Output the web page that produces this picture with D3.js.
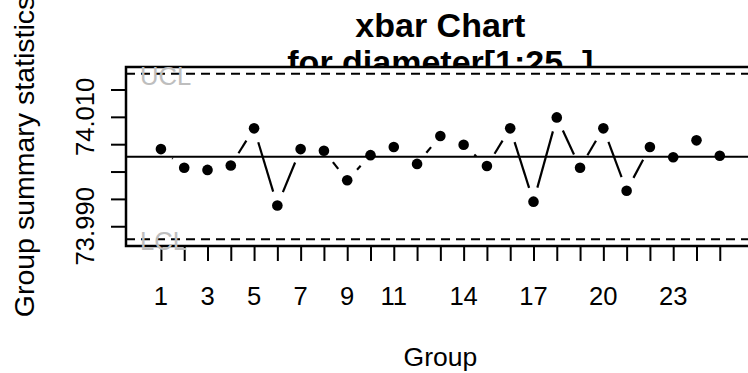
<!DOCTYPE html>
<html>
<head>
<meta charset="utf-8">
<script src="https://cdn.jsdelivr.net/npm/d3@7"></script>
<style>
  body { margin: 0; background: #fff; }
  text { font-family: "Liberation Sans", Arial, sans-serif; }
</style>
</head>
<body>
<div id="chart"></div>
<script>
// group means
var groups = d3.range(1, 26);
var means = [74.0041, 74.0007, 74.0003, 74.0011, 74.0079, 73.9938, 74.0041, 74.0038,
             73.9984, 74.0030, 74.0045, 74.0014, 74.0065, 74.0049, 74.0010, 74.0079,
             73.9945, 74.0099, 74.0007, 74.0079, 73.9965, 74.0045, 74.0026, 74.0057,
             74.0029];
var center = 74.0027, ucl = 74.0179, lcl = 73.9876;
var yTicks = [73.990, 73.995, 74.000, 74.005, 74.010, 74.015];
var yLabels = [73.990, 74.010];
var xLabels = [1, 3, 5, 7, 9, 11, 14, 17, 20, 23];

var W = 748, H = 373;
var box = { left: 126, top: 67, right: 754.7, bottom: 246 };

var svg = d3.select("#chart").append("svg")
    .attr("width", W)
    .attr("height", H);

// R style limits: 4% padding around the data range
var pad = (ucl - lcl) * 0.04;
var y = d3.scaleLinear()
    .domain([lcl - pad, ucl + pad])
    .range([box.bottom, box.top]);

var x = d3.scaleLinear()
    .domain([-0.5, 26.5])
    .range([box.left, box.right]);

var cx = (box.left + box.right) / 2;

// title (bottom of second line is hidden by plot area)
svg.append("text")
    .attr("x", cx).attr("y", 36.5)
    .attr("text-anchor", "middle")
    .attr("font-size", 34).attr("font-weight", "bold")
    .text("xbar Chart");
svg.append("text")
    .attr("x", cx).attr("y", 74)
    .attr("text-anchor", "middle")
    .attr("font-size", 34).attr("font-weight", "bold")
    .text("for diameter[1:25, ]");

svg.append("rect")
    .attr("x", box.left).attr("y", box.top)
    .attr("width", box.right - box.left)
    .attr("height", box.bottom - box.top)
    .attr("fill", "#fff")
    .attr("stroke", "#000")
    .attr("stroke-width", 2.5);

// axes
var yAxis = svg.append("g")
    .attr("transform", "translate(" + box.left + ",0)")
    .call(d3.axisLeft(y).tickValues(yTicks).tickSize(15).tickFormat(""));
var xAxis = svg.append("g")
    .attr("transform", "translate(0," + box.bottom + ")")
    .call(d3.axisBottom(x).tickValues(groups).tickSize(15).tickFormat(""));
[yAxis, xAxis].forEach(function (g) {
    g.select(".domain").remove();
    g.selectAll("line").attr("stroke", "#000").attr("stroke-width", 2);
});

svg.selectAll(".ylab")
    .data(yLabels)
    .enter().append("text")
    .attr("class", "ylab")
    .attr("transform", function (d) {
        return "translate(93.5," + y(d) + ") rotate(-90)";
    })
    .attr("text-anchor", "middle")
    .attr("font-size", 25.6)
    .text(function (d) { return d3.format(".3f")(d); });

svg.selectAll(".xlab")
    .data(xLabels)
    .enter().append("text")
    .attr("class", "xlab")
    .attr("x", function (d) { return x(d); })
    .attr("y", 305)
    .attr("text-anchor", "middle")
    .attr("font-size", 25.6)
    .text(function (d) { return d; });

svg.append("text")
    .attr("x", cx).attr("y", 366)
    .attr("text-anchor", "middle")
    .attr("font-size", 26.5)
    .text("Group");

svg.append("text")
    .attr("transform", "translate(33.5," + ((box.top + box.bottom) / 2) + ") rotate(-90)")
    .attr("text-anchor", "middle")
    .attr("font-size", 28.5)
    .text("Group summary statistics");

// center and control limits
svg.append("line")
    .attr("x1", box.left).attr("x2", box.right)
    .attr("y1", y(center)).attr("y2", y(center))
    .attr("stroke", "#000").attr("stroke-width", 2.2);

svg.selectAll(".limit")
    .data([ucl, lcl])
    .enter().append("line")
    .attr("class", "limit")
    .attr("x1", box.left).attr("x2", box.right)
    .attr("y1", function (d) { return y(d); })
    .attr("y2", function (d) { return y(d); })
    .attr("stroke", "#000").attr("stroke-width", 2)
    .attr("stroke-dasharray", "9,6");

svg.selectAll(".limlab")
    .data([["UCL", ucl], ["LCL", lcl]])
    .enter().append("text")
    .attr("class", "limlab")
    .attr("x", 140)
    .attr("y", function (d) { return y(d[1]) + 11; })
    .attr("font-size", 25.6)
    .attr("fill", "#bebebe")
    .text(function (d) { return d[0]; });

// type = "b": segments with gaps around the points
var gap = 14.5;
var segs = [];
for (var i = 1; i < means.length; i++) {
    var x0 = x(groups[i - 1]), y0 = y(means[i - 1]);
    var x1 = x(groups[i]), y1 = y(means[i]);
    var len = Math.hypot(x1 - x0, y1 - y0);
    if (len > 2 * gap) {
        var ux = (x1 - x0) / len, uy = (y1 - y0) / len;
        segs.push([x0 + ux * gap, y0 + uy * gap, x1 - ux * gap, y1 - uy * gap]);
    }
}
svg.selectAll(".seg")
    .data(segs)
    .enter().append("line")
    .attr("class", "seg")
    .attr("x1", function (d) { return d[0]; })
    .attr("y1", function (d) { return d[1]; })
    .attr("x2", function (d) { return d[2]; })
    .attr("y2", function (d) { return d[3]; })
    .attr("stroke", "#000").attr("stroke-width", 2.2);

svg.selectAll(".pt")
    .data(means)
    .enter().append("circle")
    .attr("class", "pt")
    .attr("cx", function (d, i) { return x(groups[i]); })
    .attr("cy", function (d) { return y(d); })
    .attr("r", 5.3)
    .attr("fill", "#000");
</script>
</body>
</html>
